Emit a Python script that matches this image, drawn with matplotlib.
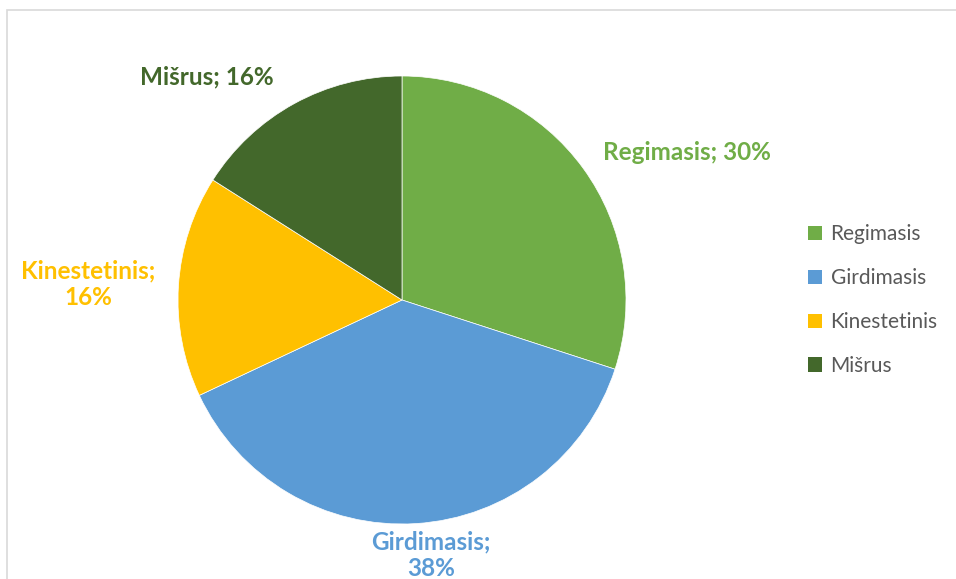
import matplotlib.pyplot as plt
from matplotlib.patches import Rectangle, Patch

# data
categories = ['Regimasis', 'Girdimasis', 'Kinestetinis', 'Mišrus']
values = [30, 38, 16, 16]
colors = ['#70AD47', '#5B9BD5', '#FFC000', '#43682B']
label_texts = ['Regimasis; 30%', 'Girdimasis;\n38%', 'Kinestetinis;\n16%', 'Mišrus; 16%']
label_pos = [(1.27, 0.66), (0.13, -1.14), (-1.40, 0.07), (-0.87, 0.995)]

plt.rcParams['font.family'] = ['Lato', 'DejaVu Sans']

fig = plt.figure(figsize=(9.56, 5.79), dpi=100)

# light chart border
fig.patches.append(Rectangle((7 / 956, -0.05), 1.0, (579 - 10) / 579 + 0.05,
                             transform=fig.transFigure, fill=False,
                             edgecolor='#D9D9D9', linewidth=1.2))

ax = fig.add_axes([178 / 956, 55 / 579, 448 / 956, 448 / 579])
wedges, _ = ax.pie(values, colors=colors, startangle=90, counterclock=False,
                   radius=1, wedgeprops=dict(edgecolor='white', linewidth=0.5))
ax.set_xlim(-1, 1)
ax.set_ylim(-1, 1)
ax.set_aspect('equal')
ax.axis('off')

for txt, (x, y), c in zip(label_texts, label_pos, colors):
    ax.text(x, y, txt, ha='center', va='center', color=c, fontsize=17.5,
            fontweight='bold', linespacing=1.2, clip_on=False)

handles = [Patch(facecolor=c, edgecolor='none', label=n) for c, n in zip(colors, categories)]
fig.legend(handles=handles, loc='center left', bbox_to_anchor=(808 / 956, 1 - 300 / 579),
           frameon=False, fontsize=15, labelcolor='#595959', handlelength=0.68,
           handleheight=0.68, handletextpad=0.4, labelspacing=1.15,
           borderpad=0, borderaxespad=0)

fig.savefig('out.png', dpi=100)
